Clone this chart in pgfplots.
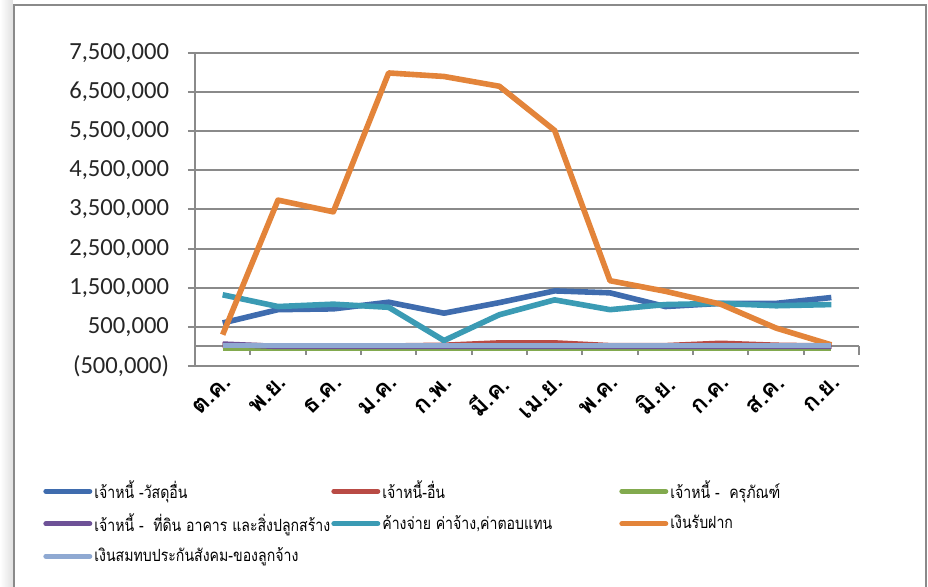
\documentclass[border=0pt]{standalone}
\usepackage{fontspec}
\usepackage{pgfplots}
\pgfplotsset{compat=1.18}
\usepackage{pgfplotstable}
\setmainfont{Carlito}
\newfontfamily\thai[Script=Thai]{Loma}
\newfontfamily\thaileg[Script=Thai, FakeStretch=0.84]{Loma}

\definecolor{gridgray}{HTML}{8A8A8A}
\definecolor{cblue}{HTML}{3F6CAE}
\definecolor{cred}{HTML}{B94B45}
\definecolor{cgreen}{HTML}{82AA4E}
\definecolor{cpurple}{HTML}{6E5297}
\definecolor{cteal}{HTML}{3B9BB4}
\definecolor{corange}{HTML}{E3843A}
\definecolor{clav}{HTML}{8FA9D2}

% monthly balances, Oct..Sep
\pgfplotstableread{
m blue    red   green  purple teal    orange  lav
0  600000 30000 -40000 60000 1320000  300000 20000
1  940000 10000 -40000 0     1020000 3740000 20000
2  960000 10000 -40000 0     1080000 3440000 20000
3 1130000 10000 -40000 0     1000000 6990000 20000
4  850000 30000 -40000 0      150000 6900000 20000
5 1120000 90000 -40000 0      810000 6650000 20000
6 1420000 90000 -40000 0     1190000 5520000 20000
7 1370000 20000 -40000 0      940000 1680000 20000
8 1020000 20000 -40000 0     1070000 1410000 20000
9 1100000 80000 -40000 0     1100000 1080000 20000
10 1100000 30000 -40000 0    1040000  470000 20000
11 1250000 10000 -40000 0    1070000   40000 20000
}\data

\begin{document}
\begin{tikzpicture}
\begin{axis}[
  scale only axis, width=332pt, height=156.5pt,
  xmin=-0.5, xmax=11.5, ymin=-500000, ymax=7500000,
  clip=false,
  axis lines=left, axis line style={gridgray, line width=1pt, -},
  xtick={0,...,11},
  xticklabels={ต.ค.,พ.ย.,ธ.ค.,ม.ค.,ก.พ.,มี.ค.,เม.ย.,พ.ค.,มิ.ย.,ก.ค.,ส.ค.,ก.ย.},
  x tick style={draw=none},
  ytick={-500000,500000,1500000,2500000,3500000,4500000,5500000,6500000,7500000},
  yticklabels={{(500,000)},{500,000},{1,500,000},{2,500,000},{3,500,000},{4,500,000},{5,500,000},{6,500,000},{7,500,000}},
  scaled y ticks=false,
  ymajorgrids, grid style={gridgray, line width=1pt},
  tick align=outside, major tick length=3.5pt,
  y tick style={gridgray, line width=1pt},
  yticklabel style={font=\fontsize{12.3}{14}\selectfont, text=black!85, xshift=-6pt},
  xticklabel style={font=\thai\bfseries\fontsize{12}{14}\selectfont, rotate=45, anchor=east, xshift=3pt, yshift=-4pt},
  legend columns=3, legend cell align=left,
  legend style={draw=none, fill=none, inner sep=0pt, at={(-0.229,-0.347)}, anchor=north west,
    font=\thaileg\fontsize{8.4}{11}\selectfont,
    nodes={inner xsep=1pt, inner ysep=0pt, minimum height=16.25pt},
    row sep=0pt, column sep=0pt},
  legend image code/.code={\draw[#1, line width=2.6pt, line cap=round] (0.8pt,0pt) -- (22.7pt,0pt);},
  every axis plot/.append style={line width=2.8pt, line join=round, no markers},
]
\coordinate (O) at (rel axis cs:0,0);
\draw[gridgray, line width=1pt] (axis cs:-0.5,0) -- (axis cs:11.5,0);
\pgfplotsinvokeforeach{0,...,11}{\draw[gridgray, line width=1pt] (axis cs:#1.5,0) -- ([yshift=-4.5pt]axis cs:#1.5,0);}
\addplot[cblue] table[x=m, y=blue] {\data};
\addlegendentry{\makebox[117.5pt][l]{เจ้าหนี้ -วัสดุอื่น}}
\addplot[cred] table[x=m, y=red] {\data};
\addlegendentry{\makebox[117.5pt][l]{เจ้าหนี้-อื่น}}
\addplot[cgreen] table[x=m, y=green] {\data};
\addlegendentry{เจ้าหนี้ -\ \ ครุภัณฑ์}
\addplot[cpurple] table[x=m, y=purple] {\data};
\addlegendentry{\makebox[117.5pt][l]{เจ้าหนี้ -\ \ ที่ดิน อาคาร และสิ่งปลูกสร้าง}}
\addplot[cteal] table[x=m, y=teal] {\data};
\addlegendentry{\makebox[117.5pt][l]{ค้างจ่าย ค่าจ้าง,ค่าตอบแทน}}
\addplot[corange] table[x=m, y=orange] {\data};
\addlegendentry{เงินรับฝาก}
\addplot[clav] table[x=m, y=lav] {\data};
\addlegendentry{\makebox[117.5pt][l]{เงินสมทบประกันสังคม-ของลูกจ้าง}}
\end{axis}
\path[use as bounding box] ([shift={(-97.5pt,-110.5pt)}]O) rectangle ([shift={(366.5pt,183pt)}]O);
\shade[left color=white, right color=black!12] ([shift={(-97.5pt,-110.5pt)}]O) rectangle ([shift={(-91pt,183pt)}]O);
\draw[gridgray, line width=1.2pt] ([shift={(-90.5pt,-115pt)}]O) |- ([shift={(365.5pt,180.5pt)}]O) -- ([shift={(365.5pt,-115pt)}]O);
\end{tikzpicture}
\end{document}
